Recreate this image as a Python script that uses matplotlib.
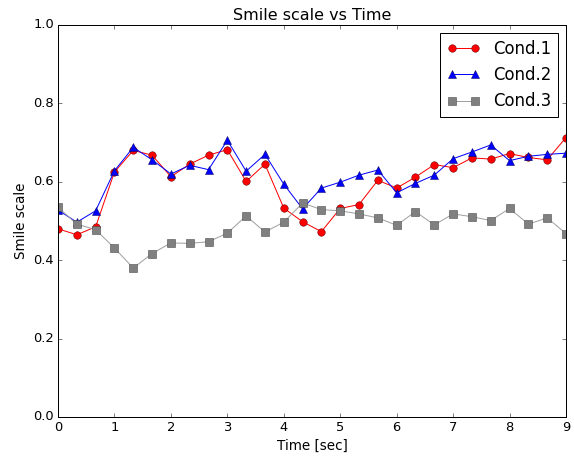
import matplotlib
matplotlib.use("Agg")
import matplotlib.pyplot as plt
import numpy as np

plt.style.use("classic")

time = np.linspace(0, 9, 28)
cond1 = [0.480, 0.465, 0.485, 0.625, 0.680, 0.668, 0.613, 0.645, 0.668, 0.682,
         0.601, 0.645, 0.533, 0.498, 0.473, 0.532, 0.542, 0.604, 0.584, 0.612,
         0.644, 0.636, 0.661, 0.658, 0.672, 0.662, 0.656, 0.713]
cond2 = [0.528, 0.497, 0.526, 0.628, 0.688, 0.656, 0.620, 0.642, 0.631, 0.706,
         0.627, 0.670, 0.594, 0.531, 0.584, 0.599, 0.617, 0.630, 0.572, 0.596,
         0.617, 0.659, 0.676, 0.694, 0.654, 0.665, 0.670, 0.673]
cond3 = [0.535, 0.492, 0.478, 0.431, 0.380, 0.417, 0.444, 0.443, 0.447, 0.469,
         0.513, 0.472, 0.497, 0.546, 0.529, 0.526, 0.518, 0.508, 0.489, 0.524,
         0.490, 0.518, 0.511, 0.501, 0.532, 0.492, 0.508, 0.468]
labels = ["Cond.1", "Cond.2", "Cond.3"]

fig = plt.figure(figsize=(574 / 72, 457 / 72), dpi=72)
fig.patch.set_facecolor("white")
ax = fig.add_axes([58 / 574, 40 / 457, 508 / 574, 392 / 457])

ax.plot(time, cond1, "-o", color="red", mfc="red", mec="#600000", ms=7.5, lw=1, label=labels[0])
ax.plot(time, cond2, "-^", color="blue", mfc="blue", mec="#000060", ms=7.5, lw=1, label=labels[1])
ax.plot(time, cond3, "-s", color="#a0a0a0", mfc="#808080", mec="#404040", ms=7.5, lw=1, label=labels[2])

ax.set_xlim(0, 9)
ax.set_ylim(0, 1)
ax.set_xticks(range(0, 10))
ax.set_yticks([0.0, 0.2, 0.4, 0.6, 0.8, 1.0])
ax.set_xlabel("Time [sec]", fontsize=13.5)
ax.set_ylabel("Smile scale", fontsize=13.5)
ax.set_title("Smile scale vs Time", fontsize=16)
ax.tick_params(labelsize=13)
ax.legend(loc="upper right", fontsize=16.5, numpoints=2)

fig.savefig("out.png", dpi=72, facecolor="white")
